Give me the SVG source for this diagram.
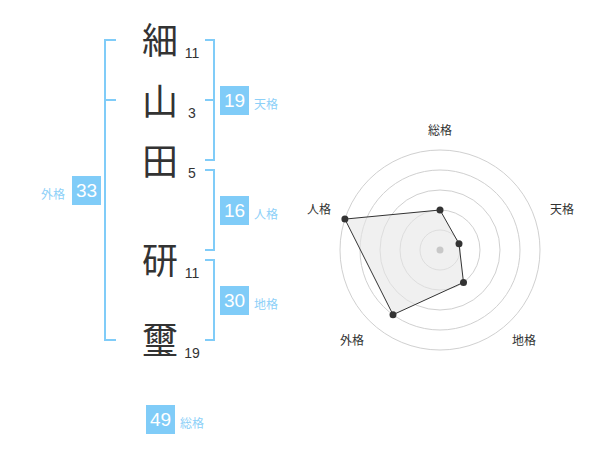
<svg xmlns="http://www.w3.org/2000/svg" width="600" height="470" viewBox="0 0 600 470">
<style>
.ch{font-family:"Noto Sans CJK JP","Noto Sans CJK SC",sans-serif;font-size:36px;fill:#333;text-anchor:middle}
.sn{font-family:"Liberation Sans",Arial,sans-serif;font-size:14px;fill:#333;text-anchor:middle}
.br{fill:none;stroke:#80ccf8;stroke-width:2}
.bx{fill:#80ccf8}
.bn{font-family:"Liberation Sans",Arial,sans-serif;font-size:19px;fill:#fff;text-anchor:middle}
.bl{font-family:"Noto Sans CJK JP","Noto Sans CJK SC",sans-serif;font-size:12px;fill:#8dd0f8}
.rl{font-family:"Noto Sans CJK JP","Noto Sans CJK SC",sans-serif;font-size:12px;fill:#333;text-anchor:middle}
.ring{fill:none;stroke:#d0d0d0;stroke-width:1}
.pt{fill:#333}
</style>
<rect width="600" height="470" fill="#fff"/>
<g id="chars">
<g id="c1"><text class="ch" x="160" y="53.5">細</text><text class="sn" x="192" y="57.7">11</text></g>
<g id="c2"><text class="ch" x="160" y="114.5">山</text><text class="sn" x="192" y="118">3</text></g>
<g id="c3"><text class="ch" x="160" y="174.5">田</text><text class="sn" x="192" y="178">5</text></g>
<g id="c4"><text class="ch" x="160" y="273.5">研</text><text class="sn" x="192" y="278">11</text></g>
<g id="c5"><text class="ch" x="160" y="353.5">璽</text><text class="sn" x="192" y="358">19</text></g>
</g>
<g id="connectors">
<path class="br" d="M116,40 H105 V340 H116 M105,100 H116"/>
<path class="br" d="M205,40 H214 V160 H205 M205,100 H214"/>
<path class="br" d="M205,170 H214 V250 H205"/>
<path class="br" d="M205,260 H214 V340 H205"/>
</g>
<g id="tenkaku"><rect class="bx" x="220" y="86" width="29" height="29"/><text class="bn" x="234.5" y="107.3">19</text><text class="bl" x="254" y="108.5">天格</text></g>
<g id="jinkaku"><rect class="bx" x="220" y="196" width="29" height="29"/><text class="bn" x="234.5" y="217.3">16</text><text class="bl" x="254" y="218.5">人格</text></g>
<g id="chikaku"><rect class="bx" x="220" y="286" width="29" height="29"/><text class="bn" x="234.5" y="307.3">30</text><text class="bl" x="254" y="308.5">地格</text></g>
<g id="gaikaku"><rect class="bx" x="72" y="176" width="29" height="29"/><text class="bn" x="86.5" y="197.3">33</text><text class="bl" x="41" y="198.5">外格</text></g>
<g id="soukaku"><rect class="bx" x="146" y="405" width="29" height="29"/><text class="bn" x="160.5" y="426.3">49</text><text class="bl" x="180" y="428">総格</text></g>
<g id="radar">
<circle class="ring" cx="440" cy="250" r="20"/>
<circle class="ring" cx="440" cy="250" r="40"/>
<circle class="ring" cx="440" cy="250" r="60"/>
<circle class="ring" cx="440" cy="250" r="80"/>
<circle class="ring" cx="440" cy="250" r="100"/>
<polygon points="440,210 459,243.8 463.5,282.4 393,314.7 344.9,219.1" fill="#e6e6e6" fill-opacity="0.6" stroke="#333" stroke-width="1"/>
<circle cx="440" cy="250" r="3.5" fill="#c8c8c8"/>
<circle class="pt" cx="440" cy="210" r="3.5"/>
<circle class="pt" cx="459" cy="243.8" r="3.5"/>
<circle class="pt" cx="463.5" cy="282.4" r="3.5"/>
<circle class="pt" cx="393" cy="314.7" r="3.5"/>
<circle class="pt" cx="344.9" cy="219.1" r="3.5"/>
<text class="rl" x="440" y="134.5">総格</text>
<text class="rl" x="562" y="213.5">天格</text>
<text class="rl" x="524" y="345">地格</text>
<text class="rl" x="352" y="345">外格</text>
<text class="rl" x="319" y="213.5">人格</text>
</g>
</svg>
